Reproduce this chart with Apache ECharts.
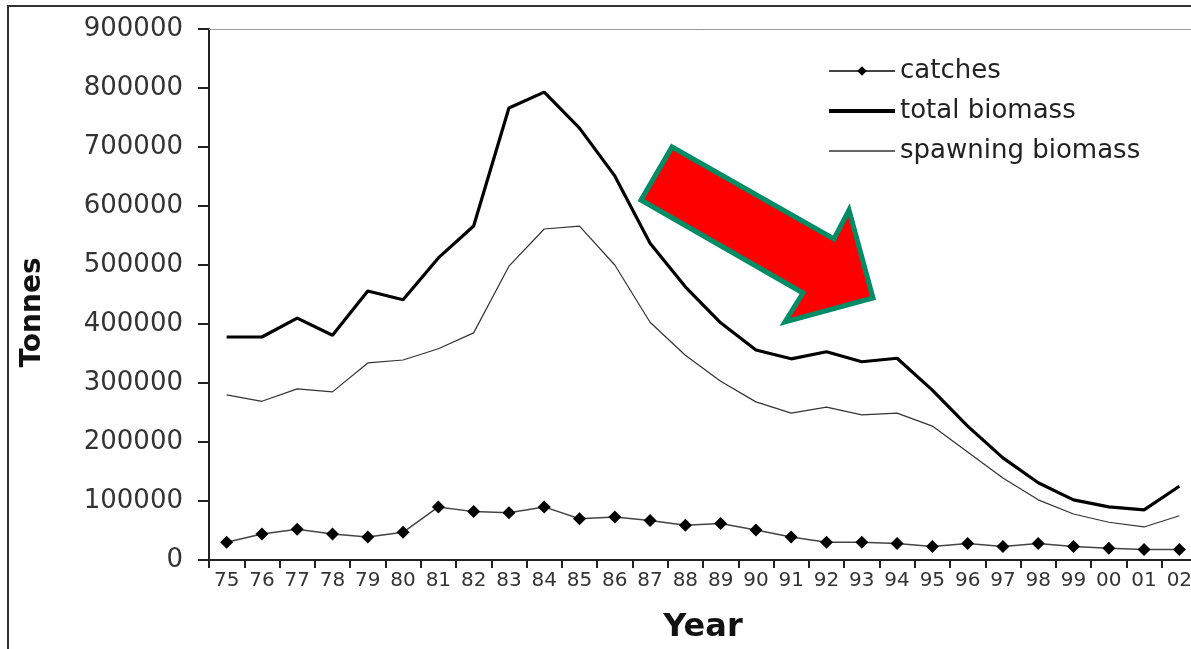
<!DOCTYPE html>
<html>
<head>
<meta charset="utf-8">
<script src="https://cdn.jsdelivr.net/npm/echarts@6/dist/echarts.min.js"></script>
<style>
  html, body { margin: 0; padding: 0; background: #fff; }
  #chart { width: 1191px; height: 649px; }
</style>
</head>
<body>
<div id="chart"></div>
<script>
// years on the x axis
const years = ['75','76','77','78','79','80','81','82','83','84','85','86','87','88',
  '89','90','91','92','93','94','95','96','97','98','99','00','01','02'];

// tonnes
const catches = [30000,44000,52000,44000,39000,47000,90000,82000,80000,90000,70000,73000,67000,59000,
  62000,51000,39000,30000,30000,28000,23000,28000,23000,28000,23000,20000,18000,18000];
const totalBiomass = [378000,378000,410000,381000,456000,441000,512000,566000,766000,793000,732000,651000,537000,463000,
  402000,356000,341000,353000,336000,342000,288000,227000,173000,131000,102000,90000,85000,125000];
const spawningBiomass = [280000,269000,290000,285000,334000,339000,358000,385000,498000,561000,566000,500000,403000,347000,
  303000,268000,249000,259000,246000,249000,227000,183000,139000,102000,78000,64000,56000,75000];

const yTicks = { min: 0, max: 900000, interval: 100000 };

const font = 'DejaVu Sans, Liberation Sans, sans-serif';
const myChart = echarts.init(document.getElementById('chart'));

const option = {
  animation: false,
  textStyle: { fontFamily: font },
  grid: { left: 209, top: 29, width: 988, height: 531, outerBoundsMode: 'none' },
  legend: {
    orient: 'vertical',
    left: 827,
    top: 58,
    padding: 0,
    itemWidth: 66,
    itemHeight: 12,
    itemGap: 14,
    textStyle: { fontSize: 26, color: '#222', fontFamily: font, padding: [0, 0, 0, 0] },
    data: [
      { name: 'catches' },
      { name: 'total biomass', itemStyle: { opacity: 0 }, lineStyle: { width: 4 } },
      { name: 'spawning biomass', itemStyle: { opacity: 0 }, lineStyle: { width: 1.5 } }
    ]
  },
  xAxis: [{
    type: 'category',
    data: years,
    boundaryGap: true,
    name: 'Year',
    nameLocation: 'middle',
    nameGap: 52,
    nameTextStyle: { fontSize: 32, fontWeight: 'bold', color: '#111', fontFamily: font },
    axisLine: { lineStyle: { color: '#222', width: 2 } },
    axisTick: { show: true, interval: 0, length: 8, lineStyle: { color: '#222', width: 2 } },
    axisLabel: { interval: 0, fontSize: 20, color: '#333', margin: 11 }
  }, {
    type: 'category',
    data: years,
    position: 'top',
    axisLine: { lineStyle: { color: '#999', width: 1 } },
    axisTick: { show: false },
    axisLabel: { show: false }
  }],
  yAxis: {
    type: 'value',
    min: yTicks.min,
    max: yTicks.max,
    interval: yTicks.interval,
    name: 'Tonnes',
    nameLocation: 'middle',
    nameRotate: 90,
    nameGap: 162,
    nameTextStyle: { fontSize: 28, fontWeight: 'bold', color: '#111', fontFamily: font, padding: [0, 36, 0, 0] },
    axisLine: { show: true, lineStyle: { color: '#222', width: 2 } },
    axisTick: { show: true, length: 11, lineStyle: { color: '#222', width: 2 } },
    axisLabel: { fontSize: 26, color: '#333', margin: 26, formatter: v => String(v) },
    splitLine: { show: false }
  },
  series: [
    {
      name: 'catches',
      type: 'line',
      data: catches,
      symbol: 'diamond',
      symbolSize: 13,
      itemStyle: { color: '#000' },
      lineStyle: { color: '#444', width: 1.5 },
      z: 3
    },
    {
      name: 'total biomass',
      type: 'line',
      data: totalBiomass,
      symbol: 'none',
      itemStyle: { color: '#000' },
      lineStyle: { color: '#000', width: 3.2 },
      z: 2
    },
    {
      name: 'spawning biomass',
      type: 'line',
      data: spawningBiomass,
      symbol: 'none',
      itemStyle: { color: '#333' },
      lineStyle: { color: '#333', width: 1.2 },
      z: 2
    }
  ],
  graphic: [
    {
      type: 'rect',
      shape: { x: 8, y: 6, width: 1200, height: 660 },
      style: { fill: 'none', stroke: '#333', lineWidth: 2 },
      silent: true
    },
    {
      type: 'polygon',
      shape: {
        points: [[672, 147], [834, 239], [849, 210], [873, 298], [785, 322], [803, 293], [641, 200]]
      },
      style: { fill: '#ff0000', stroke: '#008c64', lineWidth: 5, lineJoin: 'miter' },
      z: 10
    }
  ]
};

myChart.setOption(option);
</script>
</body>
</html>
